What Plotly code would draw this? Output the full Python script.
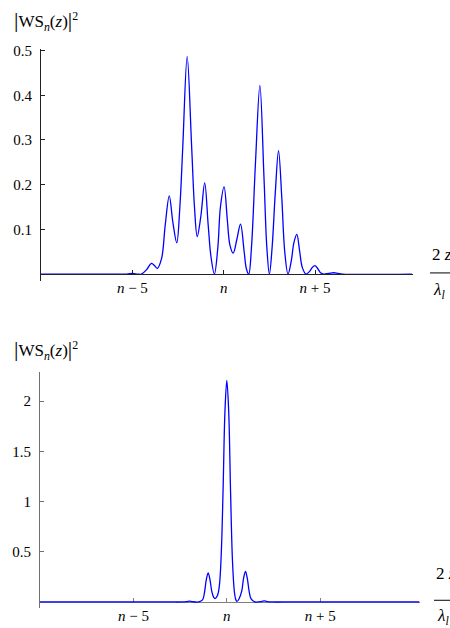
import plotly.graph_objects as go

# ---------------- data ----------------
# top panel: |WS_n(z)|^2, x measured relative to n (units of 2z/lambda_l)
top_x = [-10, -6.0, -5.3, -5.0, -4.7, -4.5, -4.22, -3.95, -3.79, -3.63, -3.4, -3.2, -2.98,
         -2.78, -2.57, -2.4, -2.24, -2.0, -1.76, -1.6, -1.45, -1.25, -1.04, -0.85, -0.7, -0.51,
         -0.32, -0.18, 0.02, 0.2, 0.34, 0.52, 0.72, 0.92, 1.12, 1.24, 1.37, 1.52, 1.74, 1.98,
         2.2, 2.36, 2.5, 2.65, 2.82, 3.0, 3.18, 3.34, 3.52, 3.7, 3.84, 4.0, 4.16, 4.3, 4.5,
         4.7, 4.85, 5.0, 5.15, 5.3, 5.47, 5.75, 6.02, 6.26, 6.5, 10.3]
top_y = [0, 0, 0, 0.0015, 0, 0.0, 0.010, 0.024, 0.019, 0.013, 0.035, 0.110, 0.175,
         0.115, 0.070, 0.150, 0.285, 0.487, 0.290, 0.150, 0.084, 0.130, 0.204, 0.110, 0.040, 0.0,
         0.060, 0.150, 0.195, 0.120, 0.065, 0.047, 0.078, 0.112, 0.050, 0.012, 0.0, 0.060, 0.250, 0.422,
         0.220, 0.060, 0.0, 0.060, 0.180, 0.276, 0.170, 0.050, 0.0, 0.030, 0.070, 0.089, 0.050, 0.015, 0.0,
         0.006, 0.015, 0.019, 0.012, 0.003, 0.0, 0.0015, 0.003, 0.0015, 0, 0]

# bottom panel
bot_x = [-10, -3.0, -2.5, -2.15, -2.0, -1.85, -1.5, -1.3, -1.2, -1.1, -1.0, -0.9, -0.8, -0.7,
         -0.63, -0.5, -0.4, -0.3, -0.2, -0.1, 0.0, 0.1, 0.2, 0.3, 0.4, 0.47, 0.54, 0.65, 0.8,
         0.9, 1.0, 1.1, 1.2, 1.3, 1.5, 1.85, 2.0, 2.15, 2.5, 3.0, 10.3]
bot_y = [0, 0, 0, 0.003, 0.009, 0.003, 0.0, 0.02, 0.09, 0.22, 0.29, 0.22, 0.10, 0.045,
         0.034, 0.065, 0.16, 0.47, 1.12, 1.90, 2.206, 1.90, 1.10, 0.42, 0.11, 0.03, 0.005, 0.03, 0.11,
         0.24, 0.305, 0.23, 0.10, 0.03, 0.0, 0.004, 0.011, 0.004, 0.0, 0, 0]

xtick_vals = [-5, 0, 5]
xtick_text = ["<i>n</i> − 5", "<i>n</i>", "<i>n</i> + 5"]
top_ytick_vals = [0.1, 0.2, 0.3, 0.4, 0.5]
top_ytick_text = ["0.1", "0.2", "0.3", "0.4", "0.5"]
bot_ytick_vals = [0.5, 1, 1.5, 2]
bot_ytick_text = ["0.5", "1", "1.5", "2"]

ylabel_text = '<span style="font-size:22px">|</span>WS<sub><i>n</i></sub>(<i>z</i>)<span style="font-size:22px">|</span><sup>2</sup>'
xnum_text = "2 <i>z</i>"
xden_text = "<i>λ<sub>l</sub></i>"

# ---------------- layout helpers ----------------
W, H = 450, 628
FONT = "Liberation Serif, Times New Roman, DejaVu Serif, serif"


def px(x):
    return x / W


def py(y):
    return 1 - y / H


fig = go.Figure()
fig.add_trace(go.Scatter(x=top_x, y=top_y, mode="lines",
                         line=dict(color="#0000ff", width=1.3, shape="spline", smoothing=1.0),
                         xaxis="x", yaxis="y", hoverinfo="skip"))
fig.add_trace(go.Scatter(x=bot_x, y=bot_y, mode="lines",
                         line=dict(color="#0000ff", width=1.3, shape="spline", smoothing=1.0),
                         xaxis="x2", yaxis="y2", hoverinfo="skip"))

tickfont = dict(family=FONT, size=15, color="black")

common_x = dict(tickmode="array", tickvals=xtick_vals, ticktext=xtick_text, ticks="inside",
                ticklen=4, tickwidth=1, showgrid=False, zeroline=False, showline=True,
                linewidth=1, tickfont=tickfont, anchor="free", side="bottom",
                fixedrange=True)
common_y = dict(ticks="inside", ticklen=4, tickwidth=1, showgrid=False, zeroline=False,
                showline=True, linewidth=1, tickfont=tickfont, tickmode="array",
                ticklabelstandoff=5, fixedrange=True)

fig.update_layout(
    width=W, height=H,
    margin=dict(l=0, r=0, t=0, b=0),
    paper_bgcolor="white", plot_bgcolor="white",
    showlegend=False,
    font=dict(family=FONT, size=15, color="black"),
    xaxis=dict(common_x, domain=[px(41), px(413)], range=[-10, 10.36],
               position=py(270.7), linecolor="#222", tickcolor="#222"),
    yaxis=dict(common_y, domain=[py(278), py(43)], range=[-0.0162, 0.5044],
               tickvals=top_ytick_vals, ticktext=top_ytick_text, anchor="x",
               linecolor="#222", tickcolor="#222"),
    xaxis2=dict(common_x, domain=[px(40), px(420)], range=[-10, 10.34],
                position=py(601.7), linecolor="#808080", tickcolor="#808080",
                layer="below traces"),
    yaxis2=dict(common_y, domain=[py(608.3), py(370)], range=[-0.065, 2.285],
                tickvals=bot_ytick_vals, ticktext=bot_ytick_text, anchor="x2",
                linecolor="#707070", tickcolor="#707070"),
)

annots = []
for yc in (15, 347):
    annots.append(dict(text=ylabel_text, xref="paper", yref="paper", x=px(12), y=py(yc),
                       xanchor="left", yanchor="middle", showarrow=False,
                       font=dict(family=FONT, size=17, color="black")))
# fraction labels 2z / lambda_l
annots.append(dict(text=xnum_text, xref="paper", yref="paper", x=px(430), y=py(251),
                   xanchor="left", yanchor="middle", showarrow=False,
                   font=dict(family=FONT, size=17, color="black")))
annots.append(dict(text=xden_text, xref="paper", yref="paper", x=px(431), y=py(288),
                   xanchor="left", yanchor="middle", showarrow=False,
                   font=dict(family=FONT, size=17, color="black")))
annots.append(dict(text=xnum_text, xref="paper", yref="paper", x=px(434), y=py(573),
                   xanchor="left", yanchor="middle", showarrow=False,
                   font=dict(family=FONT, size=17, color="black")))
annots.append(dict(text=xden_text, xref="paper", yref="paper", x=px(435), y=py(617),
                   xanchor="left", yanchor="middle", showarrow=False,
                   font=dict(family=FONT, size=17, color="black")))
fig.update_layout(annotations=annots)

fig.update_layout(shapes=[
    dict(type="line", xref="paper", yref="paper", x0=px(430), x1=px(452), y0=py(269.5), y1=py(269.5),
         line=dict(color="black", width=1)),
    dict(type="line", xref="paper", yref="paper", x0=px(434), x1=px(452), y0=py(600), y1=py(600),
         line=dict(color="black", width=1)),
])

fig.write_html("out.html",
               config={"displayModeBar": False},
               post_script="document.body.style.margin='0px';document.body.style.padding='0px';document.body.style.overflow='hidden';")
